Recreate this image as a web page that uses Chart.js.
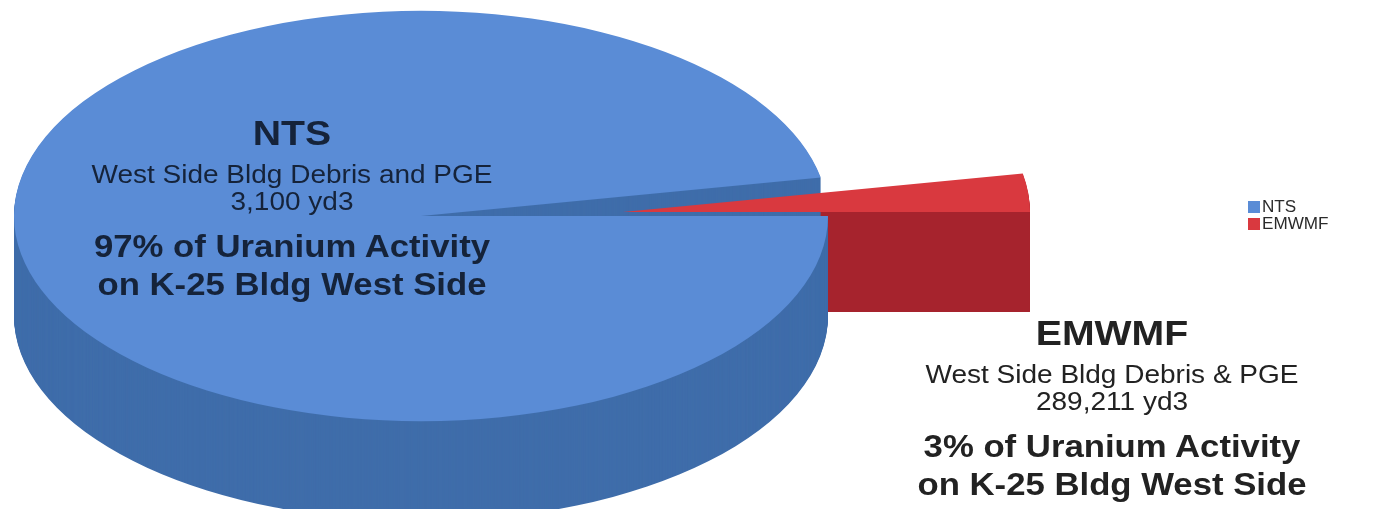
<!DOCTYPE html>
<html>
<head>
<meta charset="utf-8">
<title>K-25 West Side uranium activity</title>
<script src="https://cdn.jsdelivr.net/npm/chart.js@4.4.1/dist/chart.umd.min.js"></script>
<style>
  html, body { margin:0; padding:0; background:#fff; }
  #wrap { position:relative; width:1391px; height:509px; overflow:hidden; font-family:"Liberation Sans", Arial, sans-serif; }
  #wrap canvas { position:absolute; left:0; top:0; }
  .ln { position:absolute; white-space:nowrap; line-height:1; transform:translateX(-50%) scaleX(1.12); transform-origin:50% 50%; }
  .b { font-weight:bold; }
  .legend { position:absolute; left:1248px; top:198px; font-size:16px; color:#2b2b2b; }
  .legend div { height:17px; line-height:17px; white-space:nowrap; }
  .legend span.sw { display:inline-block; width:12px; height:12px; margin-right:2px; vertical-align:-1px; }
  .legend span.tx { display:inline-block; transform:scaleX(1.07); transform-origin:0 50%; }
</style>
</head>
<body>
<div id="wrap">
  <canvas id="chart" width="1391" height="509"></canvas>
  <div id="labels"></div>
  <div class="legend" id="legend"></div>
</div>
<script>
/* ---------- data ---------- */
const categories = ['NTS', 'EMWMF'];
const uraniumPct = [97, 3];
const volumes = ['3,100 yd3', '289,211 yd3'];
const descriptions = ['West Side Bldg Debris and PGE', 'West Side Bldg Debris & PGE'];

/* ---------- style ---------- */
const topColors  = ['#5a8cd6', '#d9393f'];
const sideColors = ['#3f6daa', '#a6232d'];
const SQUASH = 0.504;      // vertical flattening of the pie
const DEPTH = 100;         // extrusion height, px
const EXPLODE = [[0, 0], [202, -4]];  // per-slice shift, px

/* ---------- pseudo 3d pie drawing ---------- */
function drawSlice(ctx, el, dx, dy, fill){
  const o = el.options, keep = o.backgroundColor;
  if (fill) o.backgroundColor = fill;
  ctx.save();
  ctx.translate(el.x + dx, el.y + dy);
  ctx.scale(1, SQUASH);
  ctx.translate(-el.x, -el.y);
  el.draw(ctx);
  ctx.restore();
  o.backgroundColor = keep;
}

const pie3d = {
  id: 'pie3d',
  beforeDatasetDraw(chart, args){
    const ctx = chart.ctx;
    const arcs = args.meta.data;
    // exploded slices sit at the back, so their walls go first
    const order = arcs.map((a, i) => i).sort((a, b) => (EXPLODE[b][0] !== 0) - (EXPLODE[a][0] !== 0));
    order.forEach(i => {
      for (let d = DEPTH; d >= 1; d--) drawSlice(ctx, arcs[i], EXPLODE[i][0], EXPLODE[i][1] + d, sideColors[i]);
    });
    order.forEach(i => drawSlice(ctx, arcs[i], EXPLODE[i][0], EXPLODE[i][1]));
    return false;
  }
};

new Chart(document.getElementById('chart'), {
  type: 'pie',
  data: {
    labels: categories,
    datasets: [{
      data: uraniumPct,
      backgroundColor: topColors,
      borderWidth: 0,
      clip: false
    }]
  },
  options: {
    responsive: false,
    animation: false,
    events: [],
    rotation: 90,
    radius: 407,
    layout: { padding: { left: 0, right: 549, top: 0, bottom: 77 } },
    plugins: { legend: { display: false }, tooltip: { enabled: false } }
  },
  plugins: [pie3d]
});

/* ---------- slice labels ---------- */
const labelBlocks = [
  { x: 292, y: 0, color: '#15233a' },
  { x: 1112, y: 200, color: '#222' }
];
const labelLines = [ // [size, bold, baseline]
  [35, true, 145], [25, false, 183], [25, false, 210], [31, true, 257], [31, true, 295]
];
const labelsEl = document.getElementById('labels');
categories.forEach((c, i) => {
  const texts = [c, descriptions[i], volumes[i], uraniumPct[i] + '% of Uranium Activity', 'on K-25 Bldg West Side'];
  texts.forEach((t, j) => {
    const [size, bold, base] = labelLines[j];
    const d = document.createElement('div');
    d.className = 'ln' + (bold ? ' b' : '');
    d.textContent = t;
    d.style.fontSize = size + 'px';
    d.style.color = labelBlocks[i].color;
    d.style.left = labelBlocks[i].x + 'px';
    d.style.top = (labelBlocks[i].y + base - 0.8465 * size) + 'px';
    labelsEl.appendChild(d);
  });
});

/* ---------- legend ---------- */
document.getElementById('legend').innerHTML = categories.map((c, i) =>
  `<div><span class="sw" style="background:${topColors[i]}"></span><span class="tx">${c}</span></div>`).join('');
</script>
</body>
</html>
